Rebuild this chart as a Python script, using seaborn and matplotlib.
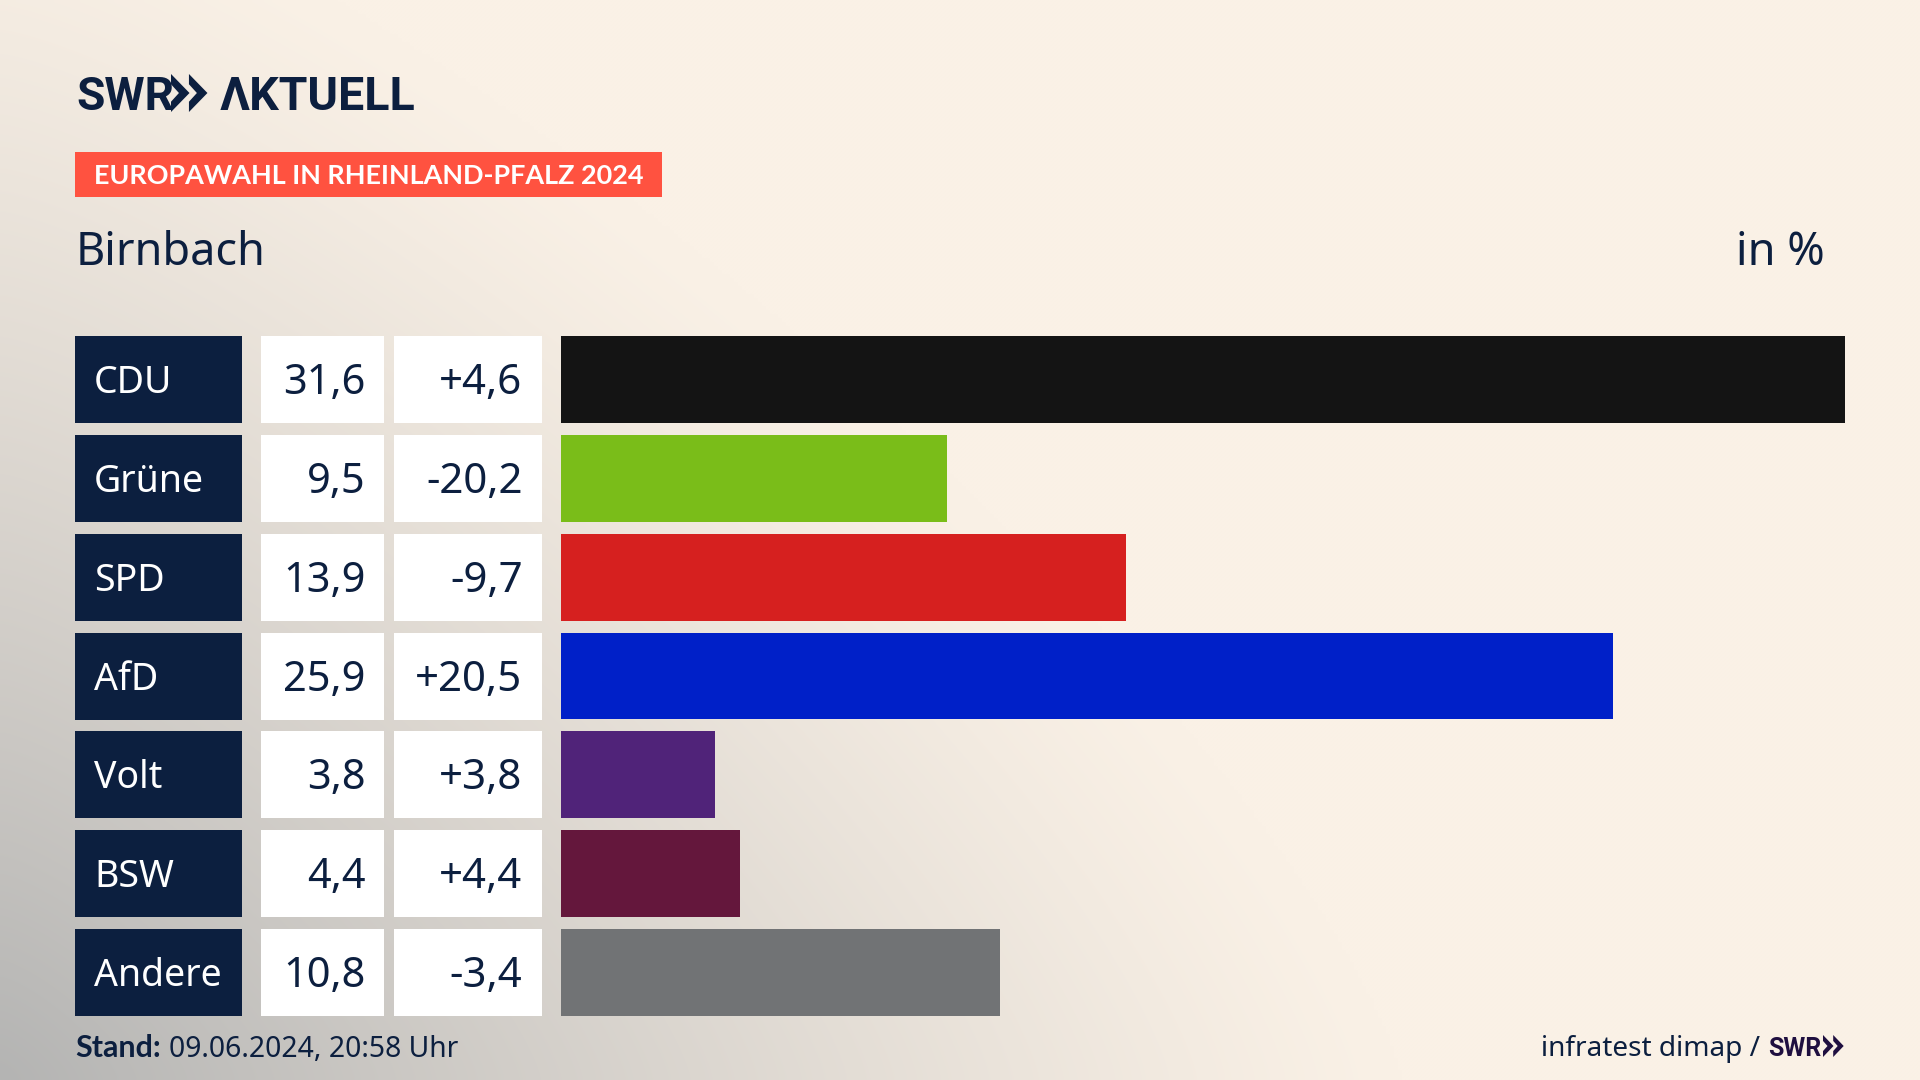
import matplotlib
matplotlib.use('Agg')
import matplotlib.pyplot as plt
from matplotlib.patches import Rectangle, Polygon
import numpy as np
import seaborn as sns

parties = ["CDU", "Grüne", "SPD", "AfD", "Volt", "BSW", "Andere"]
share = [31.6, 9.5, 13.9, 25.9, 3.8, 4.4, 10.8]
share_labels = ["31,6", "9,5", "13,9", "25,9", "3,8", "4,4", "10,8"]
diff_labels = ["+4,6", "-20,2", "-9,7", "+20,5", "+3,8", "+4,4", "-3,4"]
colors = ["#141414", "#7abd19", "#d6201f", "#0020c8", "#502379", "#64173c", "#717375"]

NAVY = "#0c1f3f"
LOGO_FONT = ['Roboto', 'DejaVu Sans']
BOLD_FONT = ['Lato', 'DejaVu Sans']

sns.set_theme(style="white")
plt.rcParams['font.family'] = ['Noto Sans', 'DejaVu Sans']


def px(size):
    return size * 0.72


def chevrons(ax, x, y0, y1, w, color):
    # the two arrows of the logo
    h = y1 - y0
    mid = (y0 + y1) / 2
    step = w * 0.97
    for off in (0, step):
        ax.add_patch(Polygon([(x + off, y0), (x + off + w, mid), (x + off, y1),
                              (x + off, y1 - 0.27 * h), (x + off + w * 0.43, mid),
                              (x + off, y0 + 0.27 * h)],
                             closed=True, fc=color, ec='none'))


fig = plt.figure(figsize=(19.2, 10.8), dpi=100)

# background
bg = fig.add_axes([0, 0, 1, 1], zorder=0)
yy, xx = np.mgrid[0:1080:270j, 0:1920:480j]
p = 1.3
d = ((xx / 1400.0) ** p + ((1080 - yy) / 1230.0) ** p) ** (1 / p)
t = 1 - (1 - np.clip(d, 0, 1)) ** 1.2
t = t[..., None]
low = np.array([0xb4, 0xb4, 0xb3]) / 255.0
high = np.array([0xfa, 0xf1, 0xe6]) / 255.0
bg.imshow(low * (1 - t) + high * t, extent=[0, 1920, 1080, 0], aspect='auto', interpolation='bilinear')
bg.axis('off')

# bars
bar_top, bar_bottom = 336, 1016
ax = fig.add_axes([561 / 1920, 1 - bar_bottom / 1080, (1845 - 561) / 1920, (bar_bottom - bar_top) / 1080], zorder=1)
ax.patch.set_alpha(0)
sns.barplot(x=share, y=parties, hue=parties, palette=colors, width=0.88, saturation=1,
            legend=False, linewidth=0, ax=ax)
ax.set_xlim(0, 31.6)
ax.set_ylim(6.44, -0.44)
ax.axis('off')

# table and titles, in pixels
ov = fig.add_axes([0, 0, 1, 1], zorder=2)
ov.set_xlim(0, 1920)
ov.set_ylim(1080, 0)
ov.axis('off')

row_h = 87
pitch = (929 - 336) / 6
for i, party in enumerate(parties):
    top = 336 + i * pitch
    ov.add_patch(Rectangle((75, top), 167, row_h, fc=NAVY, ec='none'))
    ov.add_patch(Rectangle((261, top), 123, row_h, fc='white', ec='none'))
    ov.add_patch(Rectangle((394, top), 148, row_h, fc='white', ec='none'))
    base = top + 57
    ov.text(94, base, party, color='white', fontsize=px(37.5), va='baseline', ha='left')
    ov.text(365.5, base + 1, share_labels[i], color=NAVY, fontsize=px(41.5), va='baseline', ha='right')
    ov.text(522.5, base + 1, diff_labels[i], color=NAVY, fontsize=px(42), va='baseline', ha='right')

# logo
ov.text(76, 110.5, "SWR", color=NAVY, fontsize=px(46), fontweight='bold', family=LOGO_FONT,
        va='baseline', ha='left')
chevrons(ov, 171, 74, 112, 18.5, NAVY)
ov.text(220, 110.5, "ΛKTUELL", color=NAVY, fontsize=px(46.5), fontweight='bold', family=LOGO_FONT,
        va='baseline', ha='left')

# banner
ov.add_patch(Rectangle((75, 152), 587, 45, fc="#ff5240", ec='none'))
ov.text(94, 184, "EUROPAWAHL IN RHEINLAND-PFALZ 2024", color='white', fontsize=px(27),
        fontweight='bold', family=BOLD_FONT, va='baseline', ha='left')

ov.text(76, 265, "Birnbach", color=NAVY, fontsize=px(45), va='baseline', ha='left')
ov.text(1825, 265, "in %", color=NAVY, fontsize=px(45), va='baseline', ha='right')

# footer
ov.text(75, 1057, "Stand:", color=NAVY, fontsize=px(30.5), fontweight='bold', family=BOLD_FONT,
        va='baseline', ha='left')
ov.text(169, 1057, "09.06.2024, 20:58 Uhr", color=NAVY, fontsize=px(28.3), va='baseline', ha='left')
ov.text(1760, 1056, "infratest dimap /", color=NAVY, fontsize=px(28), va='baseline', ha='right')
ov.text(1768, 1056, "SWR", color="#1f0f40", fontsize=px(25), fontweight='bold', family=LOGO_FONT,
        va='baseline', ha='left')
chevrons(ov, 1823, 1035, 1057, 10.5, "#1f0f40")

fig.savefig("out.png", dpi=100)
